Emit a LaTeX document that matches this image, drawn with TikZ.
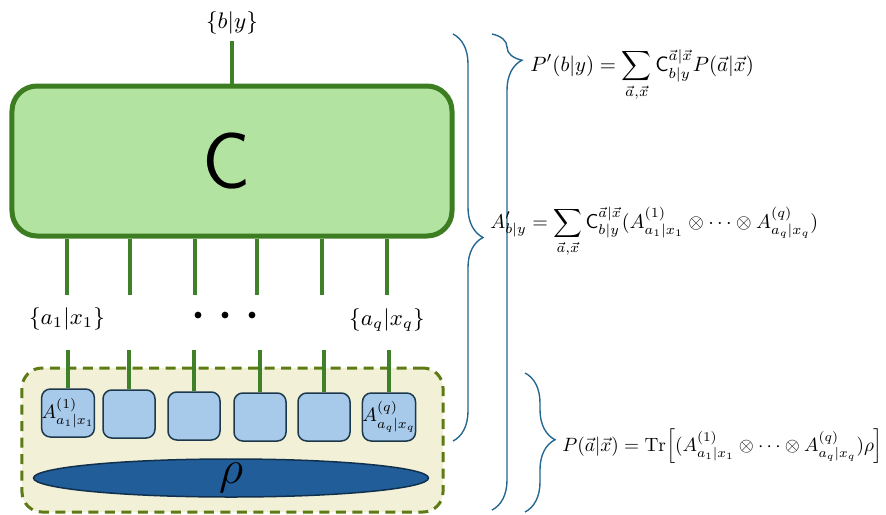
\documentclass[tikz,border=0pt]{standalone}
\usepackage{fix-cm}
\usepackage{fontspec}
\usepackage{graphicx}
\usetikzlibrary{shapes.geometric,decorations.pathreplacing}

\definecolor{boxgreen}{HTML}{3C7D22}
\definecolor{boxfill}{HTML}{B3E3A0}
\definecolor{wiregreen}{HTML}{3F8128}
\definecolor{statefill}{HTML}{F2F0D6}
\definecolor{statedash}{HTML}{5E7A12}
\definecolor{measfill}{HTML}{A7CAEB}
\definecolor{measdraw}{HTML}{1C394B}
\definecolor{rhofill}{HTML}{215E99}
\definecolor{rhodraw}{HTML}{10304D}
\definecolor{bracecol}{HTML}{23668F}

\newcommand{\measlab}[1]{\scalebox{0.78}{$#1$}}

\begin{document}
\begin{tikzpicture}[x=0.4pt, y=-0.4pt,
    every node/.style={font=\fontsize{9}{11}\selectfont},
    wire/.style={draw=wiregreen, line width=1.7pt},
    cbox/.style={draw=boxgreen, fill=boxfill, line width=2pt, rounded corners=10pt,
      minimum width=176pt, minimum height=60pt, font=\fontsize{32}{32}\selectfont\sffamily},
    qstate/.style={draw=statedash, fill=statefill, line width=1.2pt, dash pattern=on 4pt off 2.6pt,
      rounded corners=8pt, minimum width=168.4pt, minimum height=57.6pt},
    meas/.style={draw=measdraw, fill=measfill, line width=0.6pt, rounded corners=3.5pt,
      minimum width=20.8pt, minimum height=19.2pt, inner sep=0pt, font=\fontsize{10}{12}\selectfont},
    rhost/.style={ellipse, draw=rhodraw, fill=rhofill, line width=0.6pt,
      minimum width=158pt, minimum height=15.2pt, inner sep=0pt},
    lab/.style={inner sep=0pt, font=\fontsize{9}{11}\selectfont},
    dotc/.style={circle, fill=black, inner sep=0pt, minimum size=2.7pt},
    brc/.style={draw=bracecol, line width=0.55pt, decorate,
      decoration={brace, amplitude=12pt, aspect=#1}},
    brc/.default=0.5,
    eq/.style={anchor=base west, inner sep=0pt, font=\fontsize{10}{12}\selectfont,
      scale=#1, transform shape},
    eq/.default=0.83
  ]
  \useasboundingbox (0,0) rectangle (886,514);

  % channel C
  \node[cbox] (C) at (232,161) {\hspace*{-4pt}C};
  \node[inner sep=0pt] (by) at (232,23) {$\{b|y\}$};
  \draw[wire, shorten <=2.5pt] (by) -- (C);

  % outcome wires
  \foreach \i/\xa in {1/67, 2/130, 3/195, 4/257, 5/322, 6/387} {
    \coordinate (top\i) at (\xa,295);
    \draw[wire] (C.south -| top\i) -- (top\i);
  }
  \node[lab] (ax1) at (67,319) {$\{a_1|x_1\}$};
  \node[lab] (axq) at (387,320) {$\{a_q|x_q\}$};
  \node[dotc] (d1) at (198,315) {};
  \node[dotc] (d2) at (225,315) {};
  \node[dotc] (d3) at (252,315) {};

  % shared state and measurements
  \node[qstate] (S) at (232.5,440) {};
  \node[rhost, label={[font=\fontsize{19}{19}\selectfont]center:$\rho$}] (rho) at (231,478) {};
  \node[meas] (m1) at (68,413) {\measlab{A^{(1)}_{a_1|x_1}}};
  \foreach \i/\xb/\yb in {2/129/414, 3/194/416, 4/260/417, 5/324/417}
    \node[meas] (m\i) at (\xb,\yb) {};
  \node[meas] (m6) at (389,417) {\measlab{A^{(q)}_{a_q|x_q}}};
  \foreach \i/\xb in {1/68, 2/129, 3/194, 4/260, 5/324, 6/389} {
    \coordinate (bot\i) at (\xb,350);
    \draw[wire] (bot\i) -- (m\i);
  }

  % braces
  \coordinate (b1t) at (453,34);
  \coordinate (b1b) at (453,441);
  \coordinate (b2t) at (492,34);
  \coordinate (b2b) at (492,510);
  \coordinate (b3t) at (525,373);
  \coordinate (b3b) at (525,512);
  \draw[brc] (b1t) -- (b1b);
  \draw[brc=0.055] (b2t) -- (b2b);
  \draw[brc=0.48] (b3t) -- (b3b);

  % formulas
  \node[eq] (pp) at (530,71) {$\displaystyle P'(b|y)=\sum_{\vec a,\vec x}\mathsf{C}^{\vec a|\vec x}_{b|y}P(\vec a|\vec x)$};
  \node[eq=0.8] (ap) at (490,228) {$\displaystyle A'_{b|y}=\sum_{\vec a,\vec x}\mathsf{C}^{\vec a|\vec x}_{b|y}(A^{(1)}_{a_1|x_1}\otimes\cdots\otimes A^{(q)}_{a_q|x_q})$};
  \node[eq=0.77] (pa) at (562,451) {$P(\vec a|\vec x)=\mathrm{Tr}\Big[(A^{(1)}_{a_1|x_1}\otimes\cdots\otimes A^{(q)}_{a_q|x_q})\rho\Big]$};
\end{tikzpicture}
\end{document}
